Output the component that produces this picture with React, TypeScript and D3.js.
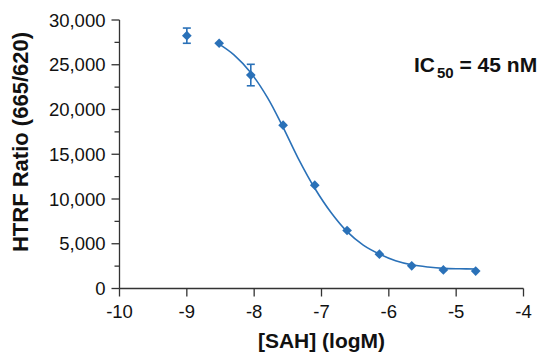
import React from "react";
import * as d3 from "d3";

const W = 539;
const H = 353;

// log concentrations of SAH (M)
const logConc = [-9, -8.52, -8.05, -7.57, -7.1, -6.62, -6.14, -5.66, -5.19, -4.71];
const ratio = [28250, 27400, 23850, 18250, 11550, 6480, 3830, 2530, 2080, 1950];
const errLow = [27400, 27400, 22650, 18250, 11550, 6480, 3830, 2530, 2080, 1950];
const errHigh = [29100, 27400, 25050, 18250, 11550, 6480, 3830, 2530, 2080, 1950];

// fitted curve
const fitX = [-8.52, -8.3, -8.05, -7.8, -7.57, -7.35, -7.1, -6.85, -6.62, -6.38, -6.14, -5.9, -5.66, -5.42, -5.19, -4.95, -4.71];
const fitY = [27300, 26100, 24100, 21300, 18000, 14600, 11200, 8400, 6350, 4850, 3850, 3100, 2650, 2400, 2250, 2200, 2180];

const xTicks = [-10, -9, -8, -7, -6, -5, -4];
const yTicks = [0, 5000, 10000, 15000, 20000, 25000, 30000];
const yMinor = [2500, 7500, 12500, 17500, 22500, 27500];

const BLUE = "#2a71b8";
const AXIS = "#333";
const FONT = "'Liberation Sans', Arial, sans-serif";

export default function App() {
  const x = d3.scaleLinear().domain([-10, -4]).range([119.5, 523.5]);
  const y = d3.scaleLinear().domain([0, 30000]).range([288.5, 20]);
  const fmt = d3.format(",");

  const line = d3
    .line<number>()
    .x((_, i) => x(fitX[i]))
    .y((d) => y(d))
    .curve(d3.curveCatmullRom);

  const diamond = d3.symbol().type(d3.symbolDiamond2).size(60)();

  return (
    <svg width={W} height={H} style={{ position: "absolute", left: 0, top: 0 }} fontFamily={FONT}>
      <rect width={W} height={H} fill="#fff" />
      {/* y axis */}
      <line x1={x(-10)} x2={x(-10)} y1={y(30000)} y2={y(0)} stroke={AXIS} strokeWidth={1.3} />
      {yTicks.map((t) => (
        <g key={t}>
          <line x1={x(-10) - 8} x2={x(-10)} y1={y(t)} y2={y(t)} stroke={AXIS} strokeWidth={1.3} />
          <text x={x(-10) - 14} y={y(t)} dy="0.36em" textAnchor="end" fontSize={18.5} fill="#111">
            {fmt(t)}
          </text>
        </g>
      ))}
      {yMinor.map((t) => (
        <line key={t} x1={x(-10) - 5} x2={x(-10)} y1={y(t)} y2={y(t)} stroke={AXIS} strokeWidth={1.3} />
      ))}
      {/* x axis */}
      <line x1={x(-10)} x2={x(-4)} y1={y(0)} y2={y(0)} stroke={AXIS} strokeWidth={1.3} />
      {xTicks.map((t) => (
        <g key={t}>
          <line x1={x(t)} x2={x(t)} y1={y(0)} y2={y(0) + 8} stroke={AXIS} strokeWidth={1.3} />
          <text x={x(t)} y={y(0) + 29} textAnchor="middle" fontSize={18.5} fill="#111">
            {t}
          </text>
        </g>
      ))}
      {/* titles */}
      <text x={(x(-10) + x(-4)) / 2} y={348} textAnchor="middle" fontSize={21} fontWeight="bold" fill="#111">
        [SAH] (logM)
      </text>
      <text
        transform={`translate(28,${142}) rotate(-90)`}
        textAnchor="middle"
        fontSize={22}
        fontWeight="bold"
        fill="#111"
      >
        HTRF Ratio (665/620)
      </text>
      {/* fit curve */}
      <path d={line(fitY) || ""} fill="none" stroke={BLUE} strokeWidth={1.6} />
      {/* error bars */}
      {logConc.map((c, i) =>
        errHigh[i] - errLow[i] > 0 ? (
          <g key={c} stroke={BLUE} strokeWidth={1.6}>
            <line x1={x(c)} x2={x(c)} y1={y(errHigh[i])} y2={y(errLow[i])} />
            <line x1={x(c) - 4} x2={x(c) + 4} y1={y(errHigh[i])} y2={y(errHigh[i])} />
            <line x1={x(c) - 4} x2={x(c) + 4} y1={y(errLow[i])} y2={y(errLow[i])} />
          </g>
        ) : null
      )}
      {/* points */}
      {logConc.map((c, i) => (
        <path key={c} d={diamond || ""} transform={`translate(${x(c)},${y(ratio[i])})`} fill={BLUE} />
      ))}
      {/* IC50 */}
      <text x={414} y={72} fontSize={21} fontWeight="bold" fill="#111">
        IC
        <tspan fontSize={15} dx={2} dy={6}>50</tspan>
        <tspan dy={-6}> = 45 nM</tspan>
      </text>
    </svg>
  );
}
